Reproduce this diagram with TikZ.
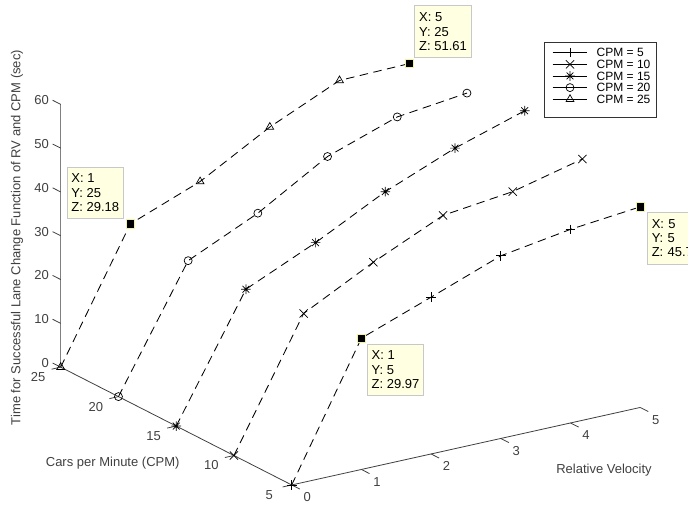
\documentclass[tikz,border=0pt]{standalone}
\usepackage{fontspec}
\setmainfont{Liberation Sans}
\usetikzlibrary{plotmarks,positioning}
\definecolor{tipfill}{HTML}{FFFFE1}
\definecolor{tipline}{HTML}{C8C8C8}
\definecolor{tipedge}{HTML}{F2F2A0}
\definecolor{axisgray}{gray}{0.25}
\pgfdeclareplotmark{star8}{%
  \pgfpathmoveto{\pgfqpoint{0pt}{\pgfplotmarksize}}\pgfpathlineto{\pgfqpoint{0pt}{-\pgfplotmarksize}}%
  \pgfpathmoveto{\pgfqpoint{\pgfplotmarksize}{0pt}}\pgfpathlineto{\pgfqpoint{-\pgfplotmarksize}{0pt}}%
  \pgfpathmoveto{\pgfqpoint{.707\pgfplotmarksize}{.707\pgfplotmarksize}}\pgfpathlineto{\pgfqpoint{-.707\pgfplotmarksize}{-.707\pgfplotmarksize}}%
  \pgfpathmoveto{\pgfqpoint{-.707\pgfplotmarksize}{.707\pgfplotmarksize}}\pgfpathlineto{\pgfqpoint{.707\pgfplotmarksize}{-.707\pgfplotmarksize}}%
  \pgfusepathqstroke}
\tikzset{
  txt/.style={font=\fontsize{13}{14.2}\selectfont, text=axisgray},
  dataline/.style={dash pattern=on 8.5pt off 5.5pt, line width=0.85pt, mark options={solid, line width=0.7pt}},
  tipmark/.style={fill=black, draw=tipedge, line width=0.8pt, minimum size=8.5pt, inner sep=0pt, outer sep=0pt},
  tipbox/.style={fill=tipfill, draw=tipline, line width=0.8pt, align=left, font=\fontsize{13}{14.2}\selectfont, inner xsep=4.5pt, inner ysep=7pt, outer sep=0pt},
}
\begin{document}
\begin{tikzpicture}[x=1pt,y=-1pt]
\useasboundingbox (0,0) rectangle (688,504);
% axis labels
\node[txt] at (112.7,463.3) {Cars per Minute (CPM)};
\node[txt] at (604,470) {Relative Velocity};
\node[txt, rotate=90] at (17,237.5) {Time for Successful Lane Change Function of RV and CPM (sec)};
\begin{scope}[shift={(349.45,514.4)}, x={(69.7pt,15.5pt)}, y={(-11.55pt,5.89pt)}, z={(0pt,4.38pt)}]
\coordinate (O) at (0,5,0);
\coordinate (rv) at (5,5,0);
\coordinate (cpm) at (0,25,0);
\coordinate (zt) at (0,25,60);
\draw [axisgray, line width=0.8pt] (O) -- (rv);
\draw [axisgray, line width=0.8pt] (O) -- (cpm);
\draw [gray, line width=1.2pt] (cpm) -- (zt);
\foreach \k in {0,10,...,60}
  \draw [axisgray, line width=0.8pt] (0,25,\k) -- (0,25.7,\k) node[txt, left] {\k};
\foreach \c in {5,10,...,25} {
  \draw [axisgray, line width=0.8pt] (0,\c,0) -- (-0.13,\c,0);
  \node[txt, xshift=-22.5pt, yshift=-10pt] at (0,\c,0) {\c};
}
\foreach \r in {0,...,5} {
  \draw [axisgray, line width=0.8pt] (\r,5,0) -- (\r,4.3,0);
  \node[txt, xshift=15.5pt, yshift=-12.3pt] at (\r,5,0) {\r};
}
% curves
\draw [dataline] plot[mark=+, mark size=4.8pt, mark indices={1,3,4,5}] coordinates {(0,5,0) (1,5,29.97) (2,5,35.8) (3,5,41.7) (4,5,44.2) (5,5,45.8)};
\draw [dataline] plot[mark=x, mark size=5.8pt] coordinates {(0,10,0) (1,10,28.9) (2,10,37.05) (3,10,44.2) (4,10,46.1) (5,10,50.0)};
\draw [dataline] plot[mark=star8, mark size=4.8pt] coordinates {(0,15,0) (1,15,27.7) (2,15,34.8) (3,15,42.9) (4,15,49.3) (5,15,54.3)};
\draw [dataline] plot[mark=o, mark size=4pt] coordinates {(0,20,0) (1,20,27.5) (2,20,34.8) (3,20,44.2) (4,20,49.7) (5,20,51.6)};
\draw [dataline] plot[mark=triangle, mark size=4.5pt, mark indices={1,3,4,5}] coordinates {(0,25,0) (1,25,29.18) (2,25,35.3) (3,25,44.2) (4,25,51.3) (5,25,51.61)};
% data tips
\node[tipmark] (tipA) at (1,5,29.97) {};
\node[tipmark] (tipB) at (5,25,51.61) {};
\node[tipmark] (tipC) at (1,25,29.18) {};
\node[tipmark] (tipD) at (5,5,45.8) {};
\end{scope}
\node[tipbox, below right=1.5pt and 1.5pt of tipA] {X: 1\\Y: 5\\Z: 29.97};
\node[tipbox, above right=2pt and 1.2pt of tipB] {X: 5\\Y: 25\\Z: 51.61};
\node[tipbox, above left=1.2pt and 2.5pt of tipC] {X: 1\\Y: 25\\Z: 29.18};
\node[tipbox, below right=1.5pt and 2.8pt of tipD, text width=54pt] {X: 5\\Y: 5\\Z: 45.7};
% legend
\draw [black!80, line width=0.8pt, fill=white] (544.3,42.3) rectangle (656,117.3);
\foreach \mk/\sz/\lab [count=\i, evaluate=\i as \yy using 41+\i*11.65] in {+/4.8/5, x/5.8/10, star8/4.8/15, o/4/20, triangle/4.5/25} {
  \draw [line width=0.7pt] plot[mark=\mk, mark size=\sz pt, mark indices={2}, mark options={line width=0.7pt}] coordinates {(552.7,\yy) (570,\yy) (587.3,\yy)};
  \node[anchor=west, inner sep=1.5pt, font=\fontsize{12}{14}\selectfont] at (595,\yy) {CPM = \lab};
}
\end{tikzpicture}
\end{document}
